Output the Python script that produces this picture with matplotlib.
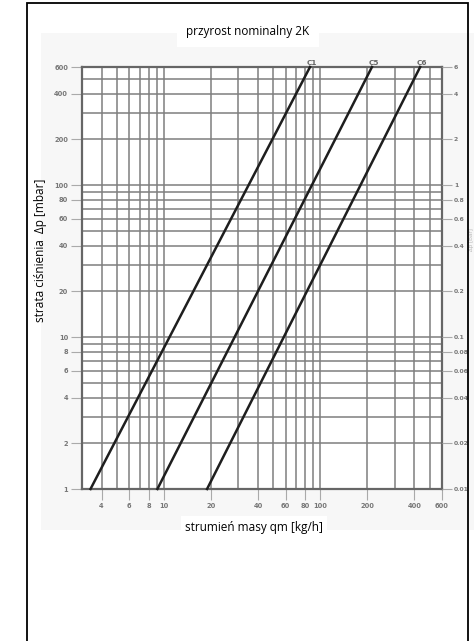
import matplotlib
matplotlib.use("Agg")
import matplotlib.pyplot as plt
from matplotlib.patches import Rectangle
from matplotlib.ticker import FixedLocator, FixedFormatter, LogLocator, NullFormatter

# ---- data ----
curve_names = ["C1", "C5", "C6"]
q_at_dp_min = [3.4, 9.1, 18.9]      # kg/h at 1 mbar
q_at_dp_max = [86, 214, 435]        # kg/h at 600 mbar
dp_range = [1, 600]                 # mbar

y_ticks = [1, 2, 4, 6, 8, 10, 20, 40, 60, 80, 100, 200, 400, 600]
y_labels = ["1", "2", "4", "6", "8", "10", "20", "40", "60", "80", "100", "200", "400", "600"]
y2_labels = ["0.01", "0.02", "0.04", "0.06", "0.08", "0.1", "0.2", "0.4", "0.6", "0.8", "1", "2", "4", "6"]
x_ticks = [4, 6, 8, 10, 20, 40, 60, 80, 100, 200, 400, 600]
x_labels = ["4", "6", "8", "10", "20", "40", "60", "80", "100", "200", "400", "600"]

title = "przyrost nominalny 2K"
xlabel = "strumień masy qm [kg/h]"
ylabel = "strata ciśnienia  Δp [mbar]"

W, H = 474, 641
fig = plt.figure(figsize=(W / 100, H / 100), dpi=100)
fig.patch.set_facecolor("white")

def fx(px):
    return px / W

def fy(py):
    return 1 - py / H

# faint scanned background
fig.patches.append(Rectangle((fx(41), fy(530)), fx(474 - 41), (530 - 33) / H,
                             transform=fig.transFigure, facecolor="#f7f7f7",
                             edgecolor="none", zorder=-5))
# outer frame
fig.patches.append(Rectangle((fx(27), -0.05), fx(468 - 27), fy(3) + 0.05,
                             transform=fig.transFigure, facecolor="none",
                             edgecolor="black", lw=1.3, zorder=10))

ax = fig.add_axes([fx(82), fy(489), fx(442 - 82), (489 - 67) / H])
ax.set_zorder(2)
ax.set_facecolor("white")
ax.set_xscale("log")
ax.set_yscale("log")
ax.set_xlim(3, 600)
ax.set_ylim(1, 600)

grid_c = "#7e7e7e"
ax.xaxis.set_major_locator(FixedLocator(x_ticks))
ax.xaxis.set_major_formatter(FixedFormatter(x_labels))
ax.yaxis.set_major_locator(FixedLocator(y_ticks))
ax.yaxis.set_major_formatter(FixedFormatter(y_labels))
ax.xaxis.set_minor_locator(LogLocator(base=10, subs=range(1, 10), numticks=20))
ax.yaxis.set_minor_locator(LogLocator(base=10, subs=range(1, 10), numticks=20))
ax.xaxis.set_minor_formatter(NullFormatter())
ax.yaxis.set_minor_formatter(NullFormatter())
ax.grid(which="both", color=grid_c, lw=1.1)
ax.tick_params(which="minor", length=0)
ax.tick_params(which="major", length=8, width=0.8, color="#aaaaaa",
               labelsize=4.8, labelcolor="#777777", pad=2)
for lab in ax.get_xticklabels() + ax.get_yticklabels():
    lab.set_fontweight("bold")
for s in ax.spines.values():
    s.set_color("#666666")
    s.set_linewidth(1.6)

ax2 = ax.twinx()
ax2.set_zorder(3)
ax2.patch.set_visible(False)
ax2.set_yscale("log")
ax2.set_ylim(ax.get_ylim())
ax2.yaxis.set_major_locator(FixedLocator(y_ticks))
ax2.yaxis.set_major_formatter(FixedFormatter(y2_labels))
ax2.yaxis.set_minor_formatter(NullFormatter())
ax2.tick_params(which="minor", length=0)
ax2.tick_params(which="major", length=7, width=0.8, color="#aaaaaa",
                labelsize=4.4, labelcolor="#777777", pad=1.5)
for lab in ax2.get_yticklabels():
    lab.set_fontweight("bold")
for s in ax2.spines.values():
    s.set_visible(False)

for name, q0, q1 in zip(curve_names, q_at_dp_min, q_at_dp_max):
    ax.plot([q0, q1], dp_range, color="#1e1e1e", lw=1.8, zorder=4, clip_on=False)
    ax.annotate(name, xy=(q1, dp_range[1]), xytext=(1.5, 0.5), textcoords="offset points",
                fontsize=5.2, color="#666666", ha="center", va="bottom",
                fontweight="bold", annotation_clip=False)

tfont = ["Open Sans", "DejaVu Sans"]
fig.text(fx(248), fy(31), title, ha="center", va="center", fontsize=8.5,
         family=tfont, color="black",
         bbox=dict(facecolor="white", edgecolor="none", pad=7))
fig.text(fx(254), fy(527), xlabel, ha="center", va="center", fontsize=8.5,
         family=tfont, color="black",
         bbox=dict(facecolor="white", edgecolor="none", pad=3))
fig.text(fx(41), fy(250), ylabel, ha="center", va="center", rotation=90,
         fontsize=8.5, family=tfont, color="black")
# faint remnant of the scanned right-hand axis label
fig.text(fx(471.5), fy(240), "Δp [bar]", ha="center", va="center",
         rotation=90, fontsize=4.5, family=tfont, color="#999999", alpha=0.7)

fig.savefig("out.png", dpi=100, facecolor="white")
